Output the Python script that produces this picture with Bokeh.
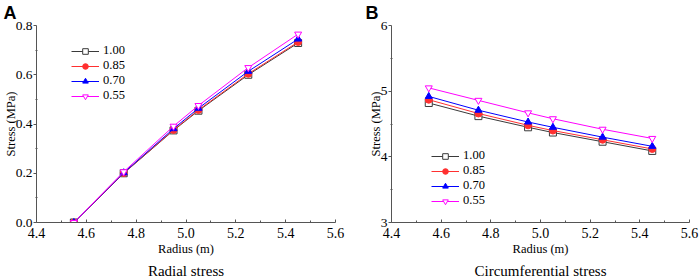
from bokeh.plotting import figure
from bokeh.layouts import row
from bokeh.models import Range1d, Legend, LegendItem, NumeralTickFormatter, FixedTicker, Title
from bokeh.embed import file_html
from bokeh.resources import INLINE

radius = [4.55, 4.75, 4.95, 5.05, 5.25, 5.45]
series_names = ["1.00", "0.85", "0.70", "0.55"]
radial = {
    "1.00": [0.0, 0.200, 0.374, 0.454, 0.600, 0.729],
    "0.85": [0.0, 0.201, 0.376, 0.457, 0.604, 0.733],
    "0.70": [0.0, 0.202, 0.381, 0.464, 0.614, 0.745],
    "0.55": [0.0, 0.206, 0.391, 0.475, 0.629, 0.765],
}
circ = {
    "1.00": [4.82, 4.62, 4.45, 4.37, 4.23, 4.09],
    "0.85": [4.87, 4.66, 4.48, 4.40, 4.26, 4.12],
    "0.70": [4.92, 4.71, 4.53, 4.45, 4.30, 4.16],
    "0.55": [5.05, 4.86, 4.67, 4.58, 4.42, 4.28],
}
x_ticks = [4.4, 4.6, 4.8, 5.0, 5.2, 5.4, 5.6]
radial_ticks = [0.0, 0.2, 0.4, 0.6, 0.8]
circ_ticks = [3, 4, 5, 6]

styles = {
    "1.00": dict(color="#3a3a3a", marker="square", fill="white"),
    "0.85": dict(color="#ff3030", marker="circle", fill="#ff3030"),
    "0.70": dict(color="#0000ff", marker="triangle", fill="#0000ff"),
    "0.55": dict(color="#ff00ff", marker="inverted_triangle", fill="white"),
}

SERIF = "Liberation Serif"
SANS = "Liberation Sans"
AXIS_COLOR = "#555555"


def make_panel(data, yrange, yticks, yfmt, yminor, width, bl, br, legend_loc, letter, letter_off, caption):
    p = figure(width=width, height=280, output_backend="svg", toolbar_location=None,
               x_range=Range1d(4.4, 5.6), y_range=Range1d(*yrange),
               min_border_left=bl, min_border_right=br, min_border_top=25, min_border_bottom=58)
    p.xgrid.visible = False
    p.ygrid.visible = False
    p.outline_line_color = None
    p.title = Title(text=letter, align="left", offset=letter_off, standoff=1,
                    vertical_align="top",
                    text_font=SANS, text_font_style="bold", text_font_size="18px",
                    text_color="black")
    for ax in (p.xaxis[0], p.yaxis[0]):
        ax.axis_line_color = AXIS_COLOR
        ax.major_tick_line_color = AXIS_COLOR
        ax.minor_tick_line_color = AXIS_COLOR
        ax.major_label_text_font = SERIF
        ax.major_label_text_color = "black"
        ax.axis_label_text_font = SERIF
        ax.axis_label_text_font_style = "normal"
        ax.axis_label_text_font_size = "12.5px"
        ax.axis_label_text_color = "black"
    xa = p.xaxis[0]
    xa.major_tick_in = 3
    xa.major_tick_out = 0
    xa.minor_tick_in = 2
    xa.minor_tick_out = 0
    xa.major_label_text_font_size = "14px"
    xa.major_label_standoff = 5
    xa.ticker = FixedTicker(ticks=x_ticks, minor_ticks=[4.5, 4.7, 4.9, 5.1, 5.3, 5.5])
    xa.formatter = NumeralTickFormatter(format="0.0")
    xa.axis_label = "Radius (m)"
    xa.axis_label_standoff = 1

    ya = p.yaxis[0]
    ya.major_tick_in = 0
    ya.major_tick_out = 3
    ya.minor_tick_in = 1
    ya.minor_tick_out = 1
    ya.major_label_text_font_size = "13.5px"
    ya.major_label_standoff = 1
    ya.ticker = FixedTicker(ticks=yticks, minor_ticks=yminor)
    ya.formatter = NumeralTickFormatter(format=yfmt)
    ya.axis_label = "Stress (MPa)"
    ya.axis_label_standoff = -5

    items = []
    for name in series_names:
        st = styles[name]
        ln = p.line(radius, data[name], line_color=st["color"], line_width=1)
        sc = p.scatter(radius, data[name], marker=st["marker"], size=7,
                       line_color=st["color"], fill_color=st["fill"], line_width=1)
        items.append(LegendItem(label=name, renderers=[ln, sc]))
    leg = Legend(items=items, location=legend_loc, border_line_color=None,
                 background_fill_alpha=0, label_text_font=SERIF, label_text_font_size="12.5px",
                 label_text_color="black",
                 glyph_width=28, glyph_height=14, label_height=14, spacing=0,
                 padding=0, margin=0, label_standoff=4)
    p.add_layout(leg, "center")

    p.add_layout(Title(text=caption, align="center", standoff=4,
                       text_font=SERIF, text_font_style="normal", text_font_size="15px",
                       text_color="black"), "below")
    return p


p1 = make_panel(radial, (0, 0.8), radial_ticks, "0.0", [0.1, 0.3, 0.5, 0.7], 350, 35, 15,
                (35, 119), "A", -33, "Radial stress")
p2 = make_panel(circ, (3, 6), circ_ticks, "0", [3.5, 4.5, 5.5], 349, 41, 10,
                (40, 14), "B", -26, "Circumferential stress")

p = row(p1, p2)
open("out.html", "w").write(file_html(p, INLINE))
